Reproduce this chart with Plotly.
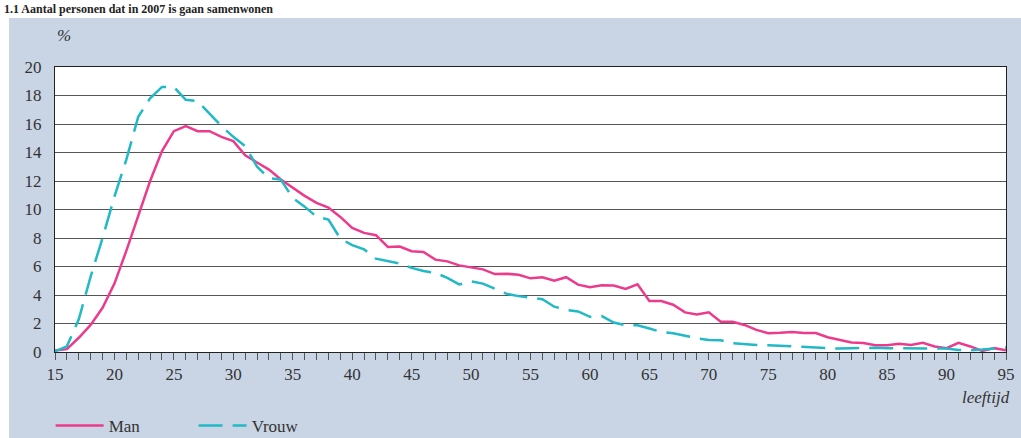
import plotly.graph_objects as go

ages = list(range(15, 96))

man = [0.1, 0.2, 1.0, 1.9, 3.1, 4.8, 7.1, 9.5, 12.0, 14.1,
       15.5, 15.85, 15.5, 15.5, 15.1, 14.8, 13.8, 13.3, 12.8, 12.1,
       11.5, 10.96, 10.47, 10.14, 9.48, 8.7, 8.36, 8.2, 7.37, 7.4,
       7.07, 7.02, 6.48, 6.36, 6.08, 5.92, 5.8, 5.47, 5.49, 5.42,
       5.17, 5.25, 5.0, 5.25, 4.73, 4.54, 4.68, 4.66, 4.42, 4.75,
       3.58, 3.58, 3.32, 2.78, 2.64, 2.78, 2.12, 2.12, 1.9, 1.55,
       1.32, 1.35, 1.4, 1.33, 1.33, 1.04, 0.87, 0.67, 0.63, 0.48,
       0.48, 0.58, 0.5, 0.65, 0.39, 0.27, 0.65, 0.39, 0.07, 0.27,
       0.12]

vrouw = [0.05, 0.4, 2.3, 5.3, 8.0, 10.9, 13.5, 16.5, 17.8, 18.6,
         18.6, 17.7, 17.6, 16.7, 15.85, 15.1, 14.45, 13.0, 12.2, 12.1,
         10.8, 10.2, 9.5, 9.3, 7.96, 7.5, 7.2, 6.55, 6.36, 6.2,
         5.9, 5.68, 5.56, 5.2, 4.74, 4.95, 4.8, 4.44, 4.08, 3.92,
         3.8, 3.7, 3.18, 2.96, 2.85, 2.47, 2.52, 2.07, 1.88, 1.88,
         1.65, 1.41, 1.32, 1.13, 0.96, 0.85, 0.82, 0.61, 0.54, 0.49,
         0.47, 0.43, 0.39, 0.34, 0.29, 0.27, 0.24, 0.27, 0.29, 0.29,
         0.27, 0.27, 0.24, 0.22, 0.22, 0.24, 0.14, 0.12, 0.17, 0.24,
         0.31]

x_tickvals = list(range(15, 96))
x_ticktext = [str(v) if v % 5 == 0 else "" for v in x_tickvals]
y_tickvals = list(range(0, 21, 2))

title_text = "1.1 Aantal personen dat in 2007 is gaan samenwonen"

PINK = "#EC3B8D"
CYAN = "#20B9C5"
PANEL = "#C9D5E5"
FONT = "Liberation Serif"
TXT = "#333333"

fig = go.Figure()
fig.add_trace(go.Scatter(x=ages, y=man, mode="lines", name="Man",
                         line=dict(color=PINK, width=2.5)))
fig.add_trace(go.Scatter(x=ages, y=vrouw, mode="lines", name="Vrouw",
                         line=dict(color=CYAN, width=2.5, dash="24px,10px")))

fig.update_layout(
    width=1021, height=438,
    margin=dict(l=55, r=15, t=67, b=86, autoexpand=False),
    paper_bgcolor=PANEL,
    plot_bgcolor="white",
    font=dict(family=FONT, size=17, color=TXT),
    showlegend=True,
    legend=dict(orientation="h", x=-0.0046, y=-0.1965, xanchor="left", yanchor="top",
                bgcolor="rgba(0,0,0,0)", font=dict(family=FONT, size=17, color=TXT),
                itemwidth=48, entrywidth=80),
    shapes=[
        dict(type="rect", xref="paper", yref="paper", x0=-0.1, x1=1.1,
             y0=1.172, y1=1.3, fillcolor="white", line=dict(width=0), layer="below"),
        dict(type="rect", xref="paper", yref="paper", x0=-0.1, x1=-0.0484,
             y0=-0.4, y1=1.3, fillcolor="white", line=dict(width=0), layer="below"),
    ],
    annotations=[
        dict(text="%", xref="paper", yref="paper", x=0.0, y=1.112, xanchor="left",
             yanchor="middle", showarrow=False,
             font=dict(family=FONT, size=17, color=TXT, style="italic")),
        dict(text="leeftijd", xref="paper", yref="paper", x=1.0063, y=-0.158,
             xanchor="right", yanchor="middle", showarrow=False,
             font=dict(family=FONT, size=17, color=TXT, style="italic")),
        dict(text="<b>" + title_text + "</b>", xref="paper", yref="paper", x=-0.0557, y=1.2035,
             xanchor="left", yanchor="middle", showarrow=False,
             font=dict(family=FONT, size=12, color="#222222")),
    ],
)

fig.update_xaxes(
    range=[15, 95], tickmode="array", tickvals=x_tickvals, ticktext=x_ticktext,
    ticks="outside", ticklen=7, tickwidth=1, tickcolor="#555555",
    showgrid=False, zeroline=False, automargin=False,
    showline=True, linecolor="#222222", linewidth=1, mirror=True,
    tickfont=dict(family=FONT, size=17, color=TXT),
)
fig.update_yaxes(
    range=[0, 20], tickmode="array", tickvals=y_tickvals,
    ticks="outside", ticklen=9, tickcolor="rgba(0,0,0,0)",
    showgrid=True, gridcolor="#555555", gridwidth=1, zeroline=False, automargin=False,
    showline=True, linecolor="#222222", linewidth=1, mirror=True,
    tickfont=dict(family=FONT, size=17, color=TXT),
)

# remove the browser's default 8px body margin so the figure fills the window
fig.write_html("out.html", config={"displayModeBar": False},
               post_script="document.body.style.margin='0px';")
